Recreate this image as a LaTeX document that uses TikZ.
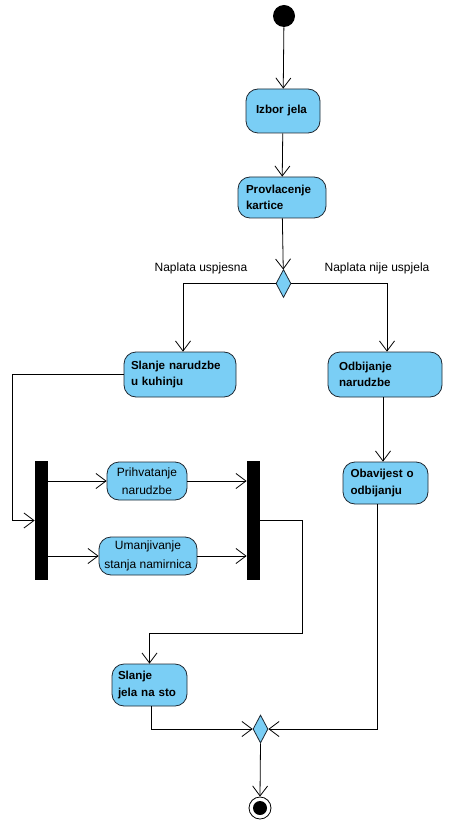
\documentclass[tikz,border=0pt]{standalone}
\usepackage{fontspec}
\setmainfont{Liberation Sans}
\usetikzlibrary{arrows.meta,shapes.geometric,calc}
\definecolor{actfill}{RGB}{122,206,245}
\definecolor{actline}{RGB}{30,40,50}
\begin{document}
\begin{tikzpicture}[x=1pt,y=-1pt,
  line width=0.8pt,
  act/.style={draw=actline,fill=actfill,rounded corners=12pt,align=left,inner xsep=10pt,inner ysep=0pt,
    font=\fontsize{11.6}{16.5}\selectfont\bfseries},
  actn/.style={draw=actline,fill=actfill,rounded corners=12pt,align=center,inner xsep=4pt,inner ysep=0pt,
    font=\fontsize{12}{18.5}\selectfont},
  bar/.style={fill=black,draw=none,minimum width=13pt,minimum height=119pt,inner sep=0pt},
  dec/.style={diamond,draw=actline,fill=actfill,minimum width=15pt,minimum height=28pt,inner sep=0pt},
  arr/.style={-{Straight Barb[length=10pt,width=15pt,line width=0.8pt]}},
  lbl/.style={font=\fontsize{12}{14}\selectfont}
]
\useasboundingbox (0,0) rectangle (456,826);

\node[circle,fill=black,minimum size=22pt,inner sep=0pt] (init) at (284,16) {};
\node[act,text width=54pt,minimum height=44pt] (izbor) at (283,111) {Izbor jela};
\node[act,inner xsep=8pt,text width=72pt,minimum height=41pt] (prov) at (282,197.5) {Provlacenje\\kartice};
\node[dec] (d1) at (283.5,283.5) {};
\node[lbl] (l1) at (201,268) {Naplata uspjesna};
\node[lbl] (l2) at (377,268) {Naplata nije uspjela};
\node[act,inner xsep=7pt,text width=98pt,minimum height=45pt] (slanje) at (180,374.5) {Slanje narudzbe\\u kuhinju};
\node[act,inner xsep=11pt,text width=92pt,minimum height=45pt] (odbij) at (385,374.5) {Odbijanje\\narudzbe};
\node[act,inner xsep=7.5pt,text width=70pt,minimum height=42pt] (obav) at (385.5,483) {Obavijest o\\odbijanju};
\node[bar] (fork) at (41.5,520.5) {};
\node[bar] (join) at (253.5,520.5) {};
\node[actn,minimum width=80pt,minimum height=38pt] (prih) at (147,481) {Prihvatanje\\narudzbe};
\node[actn,minimum width=98pt,minimum height=38pt] (uman) at (148,556) {Umanjivanje\\stanja namirnica};
\node[act,inner xsep=6pt,text width=63pt,minimum height=42pt] (jela) at (149.5,685) {Slanje\\jela na sto};
\node[dec] (d2) at (260.5,729) {};
\node[circle,draw=black,fill=white,minimum size=22pt,inner sep=0pt] (fin) at (260,808) {};
\node[circle,fill=black,minimum size=14pt,inner sep=0pt] (fininner) at (260,808) {};

\coordinate (c1) at (12,0);
\coordinate (c2) at (302,633);

\draw[arr] (init) -- (izbor);
\draw[arr] (izbor) -- (prov);
\draw[arr] (prov) -- (d1);
\draw[arr] (d1.west) -| ([xshift=3pt]slanje.north);
\draw[arr] (d1.east) -| ([xshift=2pt]odbij.north);
\draw[arr] ([xshift=-2pt]odbij.south) -- ([xshift=-2pt]odbij.south |- obav.north);
\draw[arr] (slanje.west) -| (c1 |- fork.west) -- (fork.west);
\draw[arr] (fork.east |- prih.west) -- (prih.west);
\draw[arr] (fork.east |- uman.west) -- (uman.west);
\draw[arr] (prih.east) -- (prih.east -| join.west);
\draw[arr] (uman.east) -- (uman.east -| join.west);
\draw[arr] (join.east) -| (c2) -| (jela.north);
\draw[arr] ([xshift=2pt]jela.south) |- (d2.west);
\draw[arr] ([xshift=-8pt]obav.south) |- (d2.east);
\draw[arr] (d2.south) -- (fin.north);
\end{tikzpicture}
\end{document}
